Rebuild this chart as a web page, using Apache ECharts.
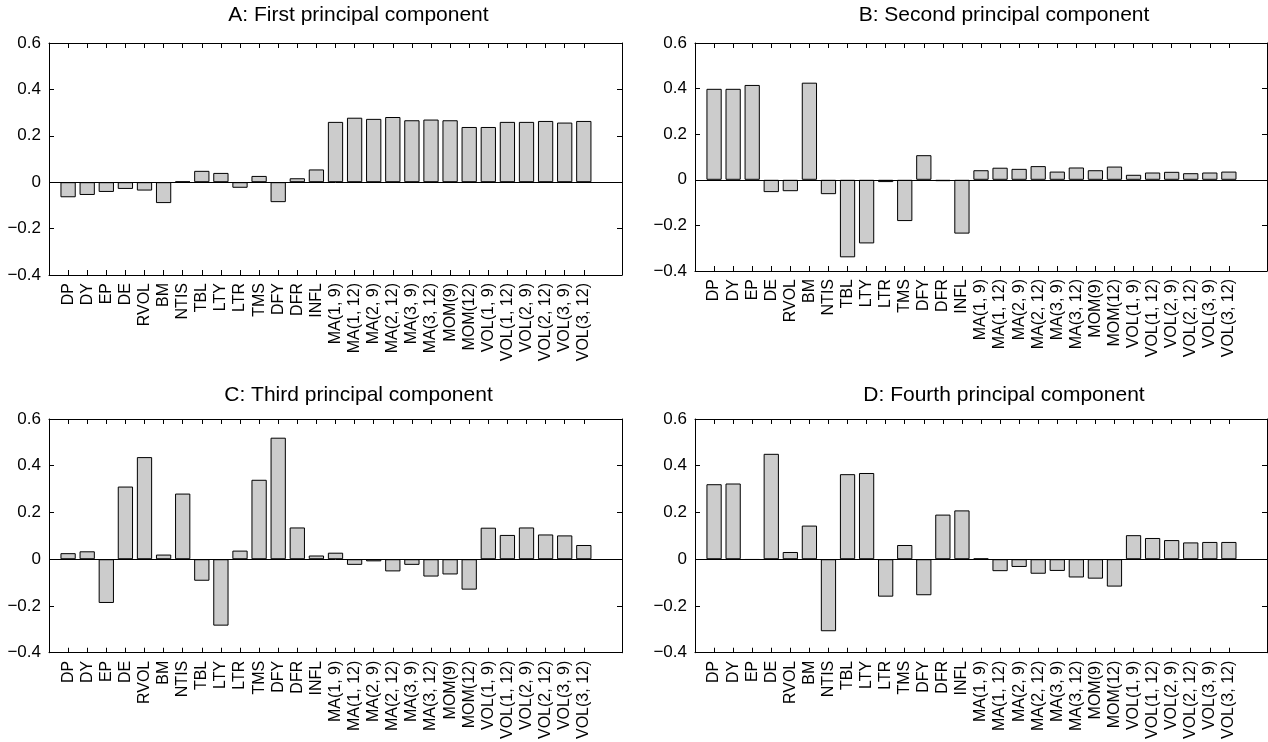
<!DOCTYPE html>
<html>
<head>
<meta charset="utf-8">
<script src="https://cdn.jsdelivr.net/npm/echarts@6/dist/echarts.min.js"></script>
<style>
  html, body { margin: 0; padding: 0; background: #fff; }
  #main { width: 1268px; height: 742px; }
</style>
</head>
<body>
<div id="main"></div>
<script>
// predictor names (x axis)
const predictors = ["DP", "DY", "EP", "DE", "RVOL", "BM", "NTIS", "TBL", "LTY", "LTR", "TMS", "DFY", "DFR", "INFL",
  "MA(1, 9)", "MA(1, 12)", "MA(2, 9)", "MA(2, 12)", "MA(3, 9)", "MA(3, 12)", "MOM(9)", "MOM(12)",
  "VOL(1, 9)", "VOL(1, 12)", "VOL(2, 9)", "VOL(2, 12)", "VOL(3, 9)", "VOL(3, 12)"]

// loadings
const pc1 = [-0.065, -0.055, -0.042, -0.029, -0.036, -0.090, 0.003, 0.049, 0.040, -0.024, 0.027, -0.086, 0.017, 0.055,
  0.260, 0.278, 0.273, 0.281, 0.267, 0.270, 0.267, 0.238, 0.238, 0.260, 0.260, 0.264, 0.257, 0.264]
const pc2 = [0.399, 0.399, 0.416, -0.054, -0.050, 0.426, -0.063, -0.340, -0.279, -0.010, -0.181, 0.108, -0.006, -0.236,
  0.042, 0.053, 0.048, 0.060, 0.036, 0.054, 0.042, 0.058, 0.022, 0.032, 0.035, 0.029, 0.032, 0.036]
const pc3 = [0.026, 0.034, -0.187, 0.311, 0.437, 0.020, 0.281, -0.092, -0.284, 0.037, 0.340, 0.520, 0.136, 0.016,
  0.028, -0.024, -0.009, -0.052, -0.024, -0.074, -0.065, -0.130, 0.135, 0.104, 0.136, 0.106, 0.102, 0.061]
const pc4 = [0.321, 0.324, -0.002, 0.451, 0.031, 0.144, -0.308, 0.364, 0.369, -0.160, 0.061, -0.154, 0.191, 0.209,
  0.003, -0.051, -0.033, -0.062, -0.050, -0.078, -0.083, -0.117, 0.103, 0.091, 0.082, 0.072, 0.074, 0.074]

const titles = ["A: First principal component", "B: Second principal component",
  "C: Third principal component", "D: Fourth principal component"]

// y axis ticks
const yMin = -0.4
const yMax = 0.6
const yStep = 0.2

const font = "'Liberation Sans', Arial, Helvetica, sans-serif"

// x range is 0..30 like the matlab plot, names sit on 1..28
const slots = ["", ...predictors, "", ""]
const padData = (vals) => [null, ...vals, null, null]

const panels = [
  { vals: pc1, left: 49, top: 43, width: 573, height: 232, titleTop: 0 },
  { vals: pc2, left: 695, top: 43, width: 572, height: 228, titleTop: 0 },
  { vals: pc3, left: 49, top: 419, width: 573, height: 236, titleTop: 380 },
  { vals: pc4, left: 695, top: 419, width: 572, height: 236, titleTop: 380 }
]

const fmtY = (v) => {
  const r = Math.round(v * 10) / 10
  if (r === 0) return "0"
  return (r < 0 ? "\u2212" : "") + Math.abs(r).toFixed(1)
}

const option = {
  animation: false,
  backgroundColor: "#fff",
  title: [],
  grid: [],
  xAxis: [],
  yAxis: [],
  series: []
}

panels.forEach((p, i) => {
  // titles sit a bit right of the axes centre in the original
  option.title.push({
    text: titles[i],
    left: p.left + p.width / 2 + 18,
    top: p.titleTop,
    textAlign: "center",
    textStyle: { fontFamily: font, fontSize: 21, fontWeight: "normal", color: "#000" }
  })
  option.grid.push({ left: p.left, top: p.top, width: p.width, height: p.height, show: false })

  const tickShow = (idx) => idx >= 1 && idx <= predictors.length
  const line = { show: true, onZero: false, lineStyle: { color: "#000", width: 1 } }
  const tick = { show: true, inside: true, length: 5, interval: tickShow, lineStyle: { color: "#000", width: 1 } }

  // bottom axis with names
  option.xAxis.push({
    type: "category", gridIndex: i, position: "bottom", data: slots, boundaryGap: false,
    axisLine: line, axisTick: tick,
    axisLabel: { interval: 0, rotate: 90, margin: 8, fontFamily: font, fontSize: 16, color: "#000" },
    splitLine: { show: false }
  })
  // top axis, ticks only
  option.xAxis.push({
    type: "category", gridIndex: i, position: "top", data: slots, boundaryGap: false,
    axisLine: line, axisTick: tick, axisLabel: { show: false }, splitLine: { show: false }
  })
  option.yAxis.push({
    type: "value", gridIndex: i, position: "left", min: yMin, max: yMax, interval: yStep,
    axisLine: { show: true, lineStyle: { color: "#000", width: 1 } },
    axisTick: { show: true, inside: true, length: 5, lineStyle: { color: "#000" } },
    axisLabel: { margin: 8, fontFamily: font, fontSize: 17, color: "#000", formatter: fmtY },
    splitLine: { show: false }
  })
  option.yAxis.push({
    type: "value", gridIndex: i, position: "right", min: yMin, max: yMax, interval: yStep,
    axisLine: { show: true, lineStyle: { color: "#000", width: 1 } },
    axisTick: { show: true, inside: true, length: 5, lineStyle: { color: "#000" } },
    axisLabel: { show: false }, splitLine: { show: false }
  })
  option.series.push({
    type: "bar",
    xAxisIndex: 2 * i,
    yAxisIndex: 2 * i,
    data: padData(p.vals),
    barWidth: "80%",
    itemStyle: { color: "#cccccc", borderColor: "#000", borderWidth: 1 },
    markLine: {
      silent: true,
      symbol: "none",
      label: { show: false },
      lineStyle: { color: "#000", width: 1, type: "solid" },
      data: [{ yAxis: 0 }]
    }
  })
})

const chart = echarts.init(document.getElementById("main"))
chart.setOption(option)
</script>
</body>
</html>
